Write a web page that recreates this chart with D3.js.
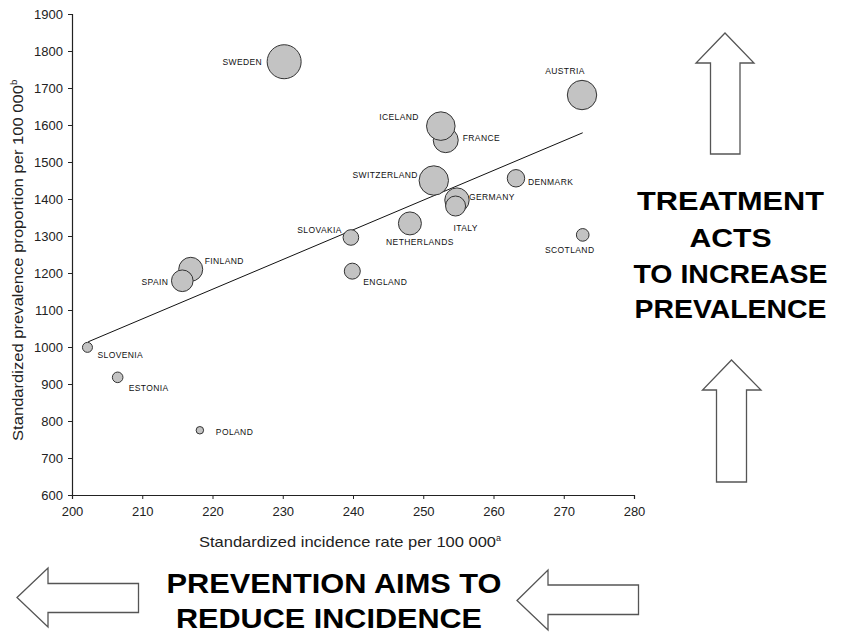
<!DOCTYPE html>
<html>
<head>
<meta charset="utf-8">
<script src="https://cdn.jsdelivr.net/npm/d3@7"></script>
<style>
  html, body { margin: 0; padding: 0; background: #fff; }
  svg { display: block; font-family: "Liberation Sans", Arial, sans-serif; }
</style>
</head>
<body>
<svg id="chart" width="841" height="634"></svg>
<script>
// ---------------- DATA ----------------
const countries = ["SWEDEN","AUSTRIA","FRANCE","ICELAND","SWITZERLAND","DENMARK","GERMANY","ITALY",
  "NETHERLANDS","SLOVAKIA","SCOTLAND","ENGLAND","FINLAND","SPAIN","SLOVENIA","ESTONIA","POLAND"];
const incidence = [230.2, 272.6, 253.2, 252.5, 251.5, 263.2, 254.8, 254.6,
  248.1, 239.7, 272.7, 239.9, 216.9, 215.7, 202.2, 206.5, 218.2];
const prevalence = [1771, 1681, 1559, 1597, 1450, 1456, 1397, 1381,
  1334, 1296, 1303, 1205, 1210, 1179, 999, 918, 775];
const bubbleSize = [289, 216, 156, 204, 216, 76, 149, 100,
  132, 61, 40, 64, 144, 117, 25, 28, 14];
const trendX = [202.3, 272.7];
const trendY = [1014, 1579];
const xTicks = [200, 210, 220, 230, 240, 250, 260, 270, 280];
const yTicks = [600, 700, 800, 900, 1000, 1100, 1200, 1300, 1400, 1500, 1600, 1700, 1800, 1900];

// ---------------- LAYOUT ----------------
// label placement relative to bubble centre: [dx, dy, anchor]
const labelPlace = {
  SWEDEN: [-22, 0, "end"], AUSTRIA: [-17, -24, "middle"], ICELAND: [-22, -9, "end"],
  FRANCE: [17, -2, "start"], SWITZERLAND: [-16, -5, "end"], DENMARK: [12, 4, "start"],
  GERMANY: [12, -3, "start"], ITALY: [-2, 22, "start"], NETHERLANDS: [10, 19, "middle"],
  SLOVAKIA: [-9, -7, "end"], SCOTLAND: [-13, 15, "middle"], ENGLAND: [11, 11, "start"],
  FINLAND: [14, -8, "start"], SPAIN: [-14, 1, "end"], SLOVENIA: [10, 8, "start"],
  ESTONIA: [11, 11, "start"], POLAND: [16, 2, "start"]
};

const svg = d3.select("#chart");
const x = d3.scaleLinear().domain([200, 280]).range([72, 634]);
const y = d3.scaleLinear().domain([600, 1900]).range([495, 14]);
const r = d3.scaleSqrt().domain([0, d3.max(bubbleSize)]).range([0, 17]);

// axes
const yAxis = svg.append("g").attr("transform", "translate(72,0)")
  .call(d3.axisLeft(y).tickValues(yTicks).tickSize(4).tickPadding(5).tickFormat(d3.format("d")));
const xAxis = svg.append("g").attr("transform", "translate(0,495)")
  .call(d3.axisBottom(x).tickValues(xTicks).tickSize(4).tickPadding(8).tickFormat(d3.format("d")));
[xAxis, yAxis].forEach(a => {
  a.select(".domain").attr("stroke", "#222").attr("stroke-width", 1.2);
  a.selectAll(".tick line").attr("stroke", "#222");
  a.selectAll(".tick text").attr("font-family", "Liberation Sans, Arial, sans-serif")
    .attr("font-size", 13).attr("fill", "#222");
});

// axis titles
const xt = svg.append("text").attr("x", 199).attr("y", 547)
  .attr("font-size", 15).attr("fill", "#222");
xt.append("tspan").attr("textLength", 297).attr("lengthAdjust", "spacingAndGlyphs")
  .text("Standardized incidence rate per 100 000");
xt.append("tspan").attr("dy", -6).attr("font-size", 9).text("a");

const yt = svg.append("text").attr("transform", "translate(23,441) rotate(-90)")
  .attr("font-size", 15.5).attr("fill", "#222");
yt.append("tspan").attr("textLength", 356).attr("lengthAdjust", "spacingAndGlyphs")
  .text("Standardized prevalence proportion per 100 000");
yt.append("tspan").attr("dy", -6).attr("font-size", 9.5).text("b");

// trend line
svg.append("line")
  .attr("x1", x(trendX[0])).attr("y1", y(trendY[0]))
  .attr("x2", x(trendX[1])).attr("y2", y(trendY[1]))
  .attr("stroke", "#111").attr("stroke-width", 1);

// bubbles
const pts = countries.map((c, i) => ({ c, x: incidence[i], y: prevalence[i], s: bubbleSize[i] }));
svg.append("g").selectAll("circle").data(pts).join("circle")
  .attr("cx", d => x(d.x)).attr("cy", d => y(d.y)).attr("r", d => r(d.s))
  .attr("fill", "#c3c3c3").attr("stroke", "#333").attr("stroke-width", 1);

// labels
svg.append("g").selectAll("text").data(pts).join("text")
  .attr("x", d => x(d.x) + labelPlace[d.c][0])
  .attr("y", d => y(d.y) + labelPlace[d.c][1])
  .attr("dy", "0.35em")
  .attr("text-anchor", d => labelPlace[d.c][2])
  .attr("font-size", 8.5).attr("fill", "#111").attr("letter-spacing", 0.4)
  .text(d => d.c);

// big annotations
function bigText(txt, cx, by, size, len) {
  svg.append("text").attr("x", cx - len / 2).attr("y", by)
    .attr("font-size", size).attr("font-weight", "bold").attr("fill", "#000")
    .attr("textLength", len).attr("lengthAdjust", "spacingAndGlyphs").text(txt);
}
bigText("TREATMENT", 730.5, 210, 26, 187);
bigText("ACTS", 730.5, 247, 26, 82);
bigText("TO INCREASE", 730.5, 283, 26, 194);
bigText("PREVALENCE", 730.5, 318, 26, 192);
bigText("PREVENTION AIMS TO", 334, 593, 28, 335);
bigText("REDUCE INCIDENCE", 329, 628, 28, 306);

// outline arrows
const arrowStyle = g => g.attr("fill", "#fff").attr("stroke", "#555").attr("stroke-width", 1.3)
  .attr("stroke-linejoin", "miter");
function upArrow(tipX, tipY, headY, headL, headR, shL, shR, bottom) {
  svg.append("path").call(arrowStyle).attr("d",
    `M${tipX},${tipY} L${headR},${headY} L${shR},${headY} L${shR},${bottom} L${shL},${bottom} L${shL},${headY} L${headL},${headY} Z`);
}
function leftArrow(tipX, tipY, headX, headT, headB, shT, shB, right) {
  svg.append("path").call(arrowStyle).attr("d",
    `M${tipX},${tipY} L${headX},${headT} L${headX},${shT} L${right},${shT} L${right},${shB} L${headX},${shB} L${headX},${headB} Z`);
}
upArrow(725, 33, 63, 696, 754, 710.5, 740, 154);
upArrow(731.5, 360, 390, 702.5, 761, 716.5, 746.5, 482);
leftArrow(17, 597.5, 48, 568, 627, 583.5, 612.5, 138.5);
leftArrow(517, 600.5, 548, 570, 630, 585, 614.5, 638.5);
</script>
</body>
</html>
